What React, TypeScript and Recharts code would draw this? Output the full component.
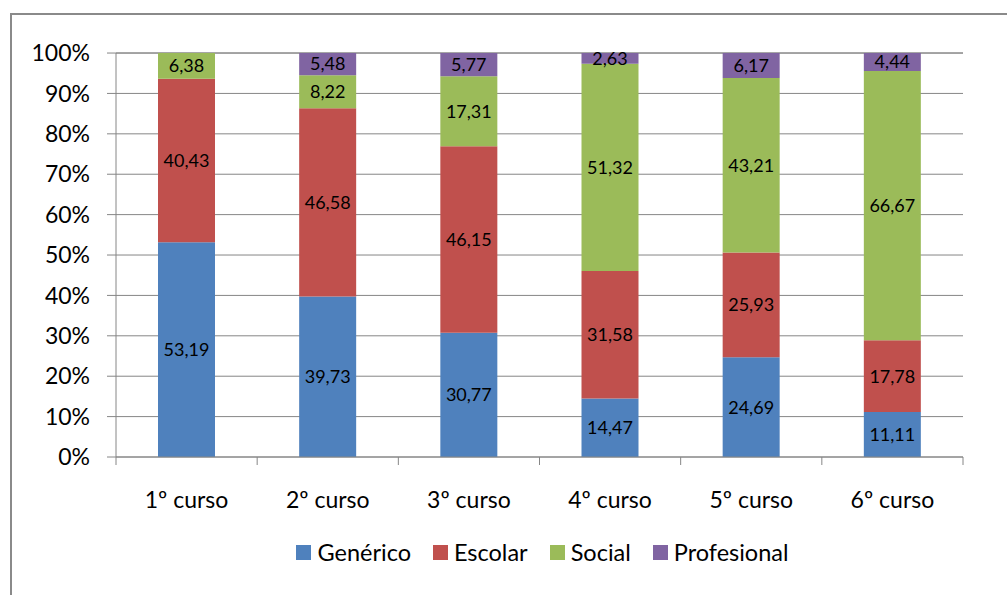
import { BarChart, Bar, XAxis, YAxis, CartesianGrid, Legend, LabelList } from 'recharts';

const cursos = ['1º curso', '2º curso', '3º curso', '4º curso', '5º curso', '6º curso'];
const generico = [53.19, 39.73, 30.77, 14.47, 24.69, 11.11];
const escolar = [40.43, 46.58, 46.15, 31.58, 25.93, 17.78];
const social = [6.38, 8.22, 17.31, 51.32, 43.21, 66.67];
const profesional = [0, 5.48, 5.77, 2.63, 6.17, 4.44];
const yTicks = [0, 10, 20, 30, 40, 50, 60, 70, 80, 90, 100];

const SERIES = [
  { key: 'generico', name: 'Genérico', color: '#4F81BD' },
  { key: 'escolar', name: 'Escolar', color: '#C0504D' },
  { key: 'social', name: 'Social', color: '#9BBB59' },
  { key: 'profesional', name: 'Profesional', color: '#8064A2' },
];

const data = cursos.map((c, i) => ({
  curso: c,
  generico: generico[i],
  escolar: escolar[i],
  social: social[i],
  profesional: profesional[i],
}));

const FONT = 'Lato, "Noto Sans", sans-serif';
const AXIS = '#868686';

const fmt = (v: any) => (v ? String(v).replace('.', ',') : '');

function CursoTick(props: any) {
  const { x, y, payload, index } = props;
  const half = payload?.offset ?? 70.6;
  return (
    <g>
      <line x1={x - half} x2={x - half} y1={y - 8} y2={y} stroke={AXIS} />
      {index === cursos.length - 1 && (
        <line x1={x + half} x2={x + half} y1={y - 8} y2={y} stroke={AXIS} />
      )}
      <text x={x} y={y + 43} textAnchor="middle" fontSize={23} fill="#000" fontFamily={FONT}>
        {payload.value}
      </text>
    </g>
  );
}

function LegendBox() {
  return (
    <div style={{ display: 'flex', justifyContent: 'center', gap: 22, fontFamily: FONT, fontSize: 23.5, lineHeight: '28px' }}>
      {SERIES.map((s) => (
        <div key={s.key} style={{ display: 'flex', alignItems: 'center' }}>
          <span style={{ width: 15, height: 15, background: s.color, marginRight: 6, display: 'inline-block' }} />
          <span style={{ color: '#000' }}>{s.name}</span>
        </div>
      ))}
    </div>
  );
}

export default function App() {
  return (
    <div style={{ position: 'absolute', left: 0, top: 0, width: 1007, height: 595, background: '#fff', overflow: 'hidden' }}>
      <div
        style={{
          position: 'absolute',
          left: 10,
          top: 13,
          width: 1100,
          height: 700,
          border: '2px solid #8a8a8a',
          boxSizing: 'border-box',
        }}
      />
      <div style={{ position: 'absolute', left: 0, top: 0 }}>
        <BarChart
          width={1007}
          height={595}
          data={data}
          margin={{ top: 53, right: 44, bottom: 50, left: 56 }}
          barCategoryGap={0}
        >
          <CartesianGrid vertical={false} stroke={AXIS} strokeWidth={1} />
          <XAxis
            dataKey="curso"
            height={60}
            axisLine={{ stroke: AXIS }}
            tickLine={false}
            tick={<CursoTick />}
            interval={0}
          />
          <YAxis
            width={60}
            domain={[0, 100]}
            ticks={yTicks}
            tickFormatter={(v) => `${v}%`}
            axisLine={{ stroke: AXIS }}
            tickLine={{ stroke: AXIS }}
            tickSize={9}
            tickMargin={17}
            tick={{ fontSize: 23, fill: '#000', fontFamily: FONT }}
          />
          <Legend verticalAlign="bottom" wrapperStyle={{ bottom: 29, left: 89, width: 907 }} content={<LegendBox />} />
          {SERIES.map((s) => (
            <Bar key={s.key} dataKey={s.key} name={s.name} stackId="a" fill={s.color} barSize={57} isAnimationActive={false}>
              <LabelList
                dataKey={s.key}
                position="center"
                formatter={fmt}
                fill="#000"
                fontSize={18}
                fontFamily={FONT}
              />
            </Bar>
          ))}
        </BarChart>
      </div>
    </div>
  );
}
